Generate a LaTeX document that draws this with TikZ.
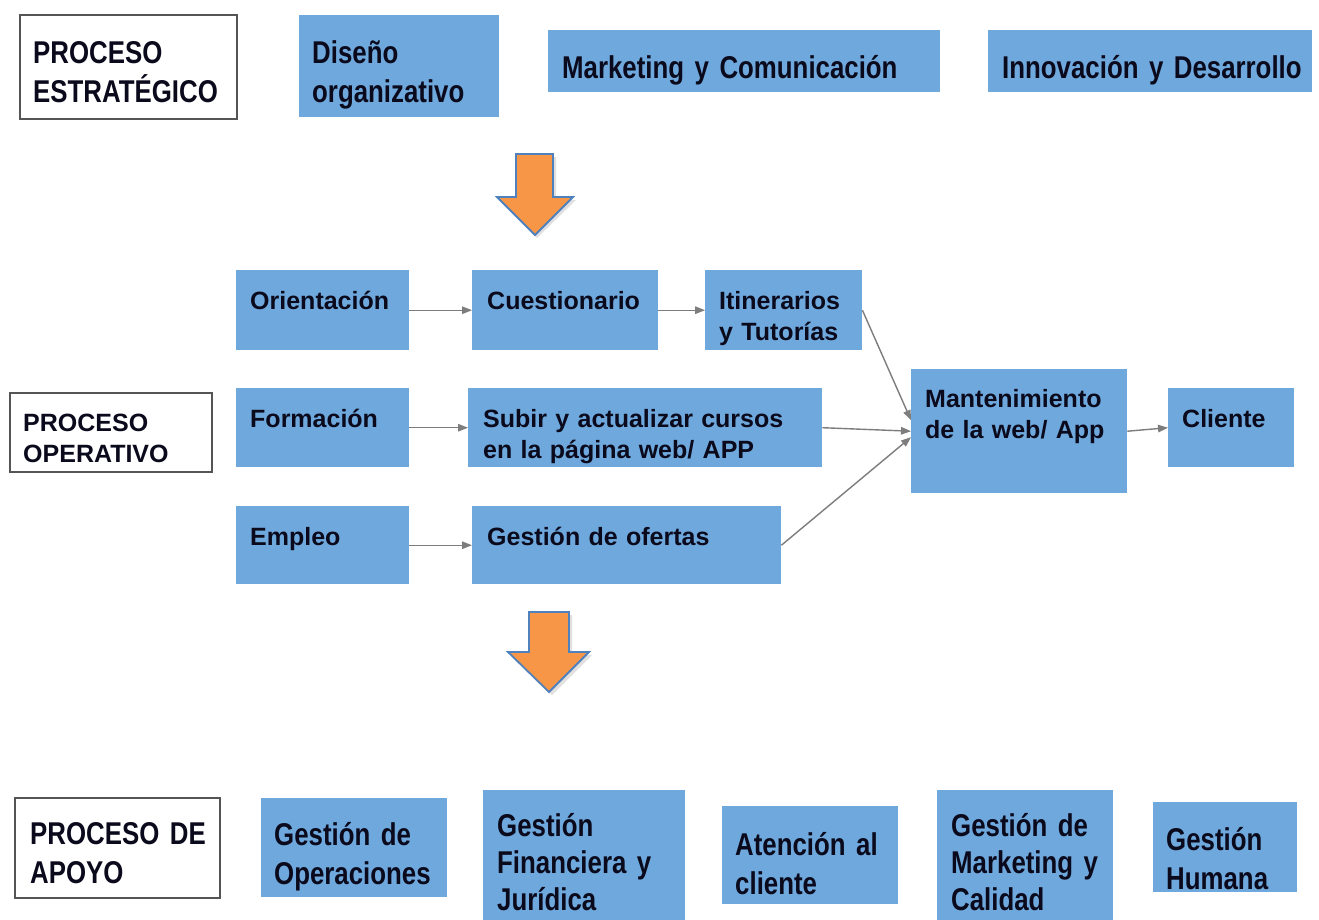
\documentclass[tikz,border=0pt]{standalone}
\usepackage{fontspec}
\setmainfont{Liberation Sans}
\newfontfamily\bigf[FakeStretch=0.82]{Liberation Sans}
\newcommand\mybigfont{\bigf\bfseries\fontsize{31.5}{39}\selectfont\fontdimen2\font=6.2pt\relax}
\newcommand\mybigfonttight{\bigf\bfseries\fontsize{31.5}{37}\selectfont\fontdimen2\font=6.2pt\relax}
\usetikzlibrary{arrows.meta}
\definecolor{boxblue}{RGB}{111,168,220}
\definecolor{txt}{RGB}{10,10,28}
\definecolor{arrorange}{RGB}{247,150,70}
\definecolor{arrblue}{RGB}{79,129,189}
\definecolor{conn}{RGB}{125,125,125}
\definecolor{frame}{RGB}{85,85,85}
\tikzset{
  bluebox/.style={fill=boxblue, draw=none, anchor=north west, inner sep=0pt},
  whitebox/.style={fill=white, draw=frame, line width=1.5pt, anchor=north west, inner sep=0pt},
  bigtext/.style={anchor=base west, inner sep=0pt, text=txt, font=\mybigfont},
  midtext/.style={anchor=base west, inner sep=0pt, text=txt,
    font=\bfseries\fontsize{25}{31}\selectfont},
  conn/.style={draw=conn, line width=1.4pt, -{Triangle[length=10pt,width=7.5pt]}},
  bigarrow/.style={fill=arrorange, draw=arrblue, line width=1.8pt, line join=miter},
  arrshadow/.style={fill=black, opacity=0.12, draw=none},
}
\begin{document}
\begin{tikzpicture}[x=1pt, y=-1pt]
\useasboundingbox[fill=white] (0,0) rectangle (1319,919);

% ---------- strategic ----------
\node[whitebox, minimum width=217pt, minimum height=104pt] (pe) at (19,14) {};
\node[bigtext, text width=200pt] (pet) at (33,63) {PROCESO\\ESTRATÉGICO};
\node[bluebox, minimum width=200pt, minimum height=102pt] (dis) at (299,15) {};
\node[bigtext, text width=185pt] (dist) at (312,63) {Diseño\\organizativo};
\node[bluebox, minimum width=392pt, minimum height=62pt] (mkt) at (548,30) {};
\node[bigtext, text width=380pt] (mktt) at (562,78) {Marketing y Comunicación};
\node[bluebox, minimum width=324pt, minimum height=62pt] (inn) at (988,30) {};
\node[bigtext, text width=310pt] (innt) at (1002,78) {Innovación y Desarrollo};

% ---------- big arrow 1 ----------
\fill[arrshadow] (519,157) -- (556,157) -- (556,200) -- (576,200) -- (537,238) -- (500,200) -- (519,200) -- cycle;
\draw[bigarrow] (516,154) -- (553,154) -- (553,197) -- (573,197) -- (535,235) -- (497,197) -- (516,197) -- cycle;

% ---------- operative ----------
\node[whitebox, minimum width=202pt, minimum height=79pt] (po) at (9,392) {};
\node[midtext, text width=190pt] (pot) at (23,431) {PROCESO\\OPERATIVO};

\node[bluebox, minimum width=173pt, minimum height=80pt] (ori) at (236,270) {};
\node[midtext, text width=160pt] (orit) at (250,309) {Orientación};
\node[bluebox, minimum width=186pt, minimum height=80pt] (cue) at (472,270) {};
\node[midtext, text width=170pt] (cuet) at (487,309) {Cuestionario};
\node[bluebox, minimum width=157pt, minimum height=80pt] (iti) at (705,270) {};
\node[midtext, text width=145pt] (itit) at (719,309) {Itinerarios\\y Tutorías};

\node[bluebox, minimum width=173pt, minimum height=79pt] (for) at (236,388) {};
\node[midtext, text width=160pt] (fort) at (250,427) {Formación};
\node[bluebox, minimum width=354pt, minimum height=79pt] (sub) at (468,388) {};
\node[midtext, text width=340pt] (subt) at (483,427) {Subir y actualizar cursos\\en la página web/ APP};

\node[bluebox, minimum width=173pt, minimum height=78pt] (emp) at (236,506) {};
\node[midtext, text width=160pt] (empt) at (250,545) {Empleo};
\node[bluebox, minimum width=309pt, minimum height=78pt] (ges) at (472,506) {};
\node[midtext, text width=290pt] (gest) at (487,545) {Gestión de ofertas};

\node[bluebox, minimum width=216pt, minimum height=124pt] (man) at (911,369) {};
\node[midtext, text width=200pt] (mant) at (925,407) {Mantenimiento\\de la web/ App};
\node[bluebox, minimum width=126pt, minimum height=79pt] (cli) at (1168,388) {};
\node[midtext, text width=110pt] (clit) at (1182,427) {Cliente};

\draw[conn] (ori.east) -- (cue.west);
\draw[conn] (cue.east) -- (iti.west);
\draw[conn] (for.east) -- (sub.west);
\draw[conn] (emp.east) -- (ges.west);
\draw[conn] (iti.east) -- ([yshift=11pt]man.west);
\draw[conn] (sub.east) -- (man.west);
\draw[conn] (ges.east) -- ([yshift=-6pt]man.west);
\draw[conn] (man.east) -- (cli.west);

% ---------- big arrow 2 ----------
\fill[arrshadow] (532,615) -- (572,615) -- (572,655) -- (592,655) -- (552,695) -- (511,655) -- (532,655) -- cycle;
\draw[bigarrow] (529,612) -- (569,612) -- (569,652) -- (589,652) -- (549,692) -- (508,652) -- (529,652) -- cycle;

% ---------- support ----------
\node[whitebox, minimum width=205pt, minimum height=100pt] (pa) at (14,797) {};
\node[bigtext, text width=190pt] (pat) at (30,844) {PROCESO DE\\APOYO};
\node[bluebox, minimum width=186pt, minimum height=99pt] (gop) at (261,798) {};
\node[bigtext, text width=175pt] (gopt) at (274,845) {Gestión de\\Operaciones};
\node[bluebox, minimum width=202pt, minimum height=140pt] (gfj) at (483,790) {};
\node[bigtext, text width=190pt, font=\mybigfonttight] (gfjt) at (497,836) {Gestión\\Financiera y\\Jurídica};
\node[bluebox, minimum width=176pt, minimum height=98pt] (ate) at (722,806) {};
\node[bigtext, text width=165pt] (atet) at (735,855) {Atención al\\cliente};
\node[bluebox, minimum width=176pt, minimum height=140pt] (gmc) at (937,790) {};
\node[bigtext, text width=165pt, font=\mybigfonttight] (gmct) at (951,836) {Gestión de\\Marketing y\\Calidad};
\node[bluebox, minimum width=144pt, minimum height=90pt] (ghu) at (1153,802) {};
\node[bigtext, text width=135pt] (ghut) at (1166,850) {Gestión\\Humana};
\end{tikzpicture}
\end{document}
